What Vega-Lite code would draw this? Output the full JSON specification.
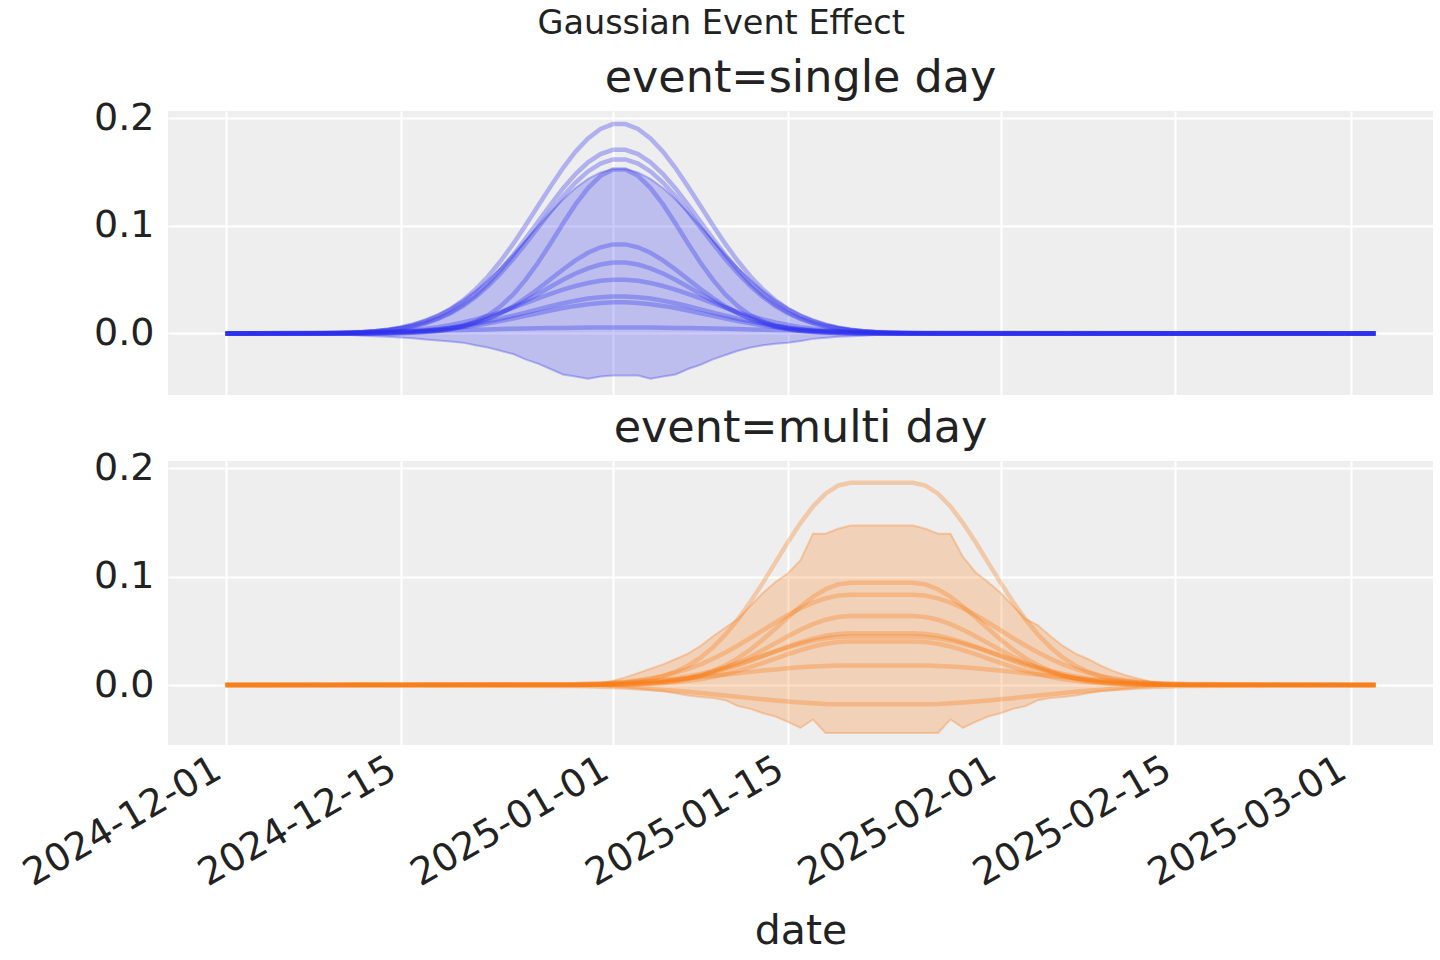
{
"$schema": "https://vega.github.io/schema/vega-lite/v6.json",
"background": "white",
"padding": {"left": 17, "top": 7, "right": 8, "bottom": 8},
"title": {"text": "Gaussian Event Effect", "fontSize": 33.5, "fontWeight": "normal", "font": "DejaVu Sans", "color": "#222222", "anchor": "middle", "baseline": "alphabetic", "offset": -12, "dx": -4},
"spacing": 10,
"config": {
 "font": "DejaVu Sans",
 "view": {"fill": "#eeeeee", "stroke": null},
 "axis": {"domain": false, "ticks": false, "grid": true, "gridColor": "#ffffff", "gridWidth": 2, "gridOpacity": 1, "labelFont": "DejaVu Sans", "labelFontSize": 38, "labelColor": "#222222", "titleFont": "DejaVu Sans", "titleFontSize": 41, "titleFontWeight": "normal", "titleColor": "#222222", "labelLimit": 0},
 "axisY": {"labelPadding": 14},
 "title": {"font": "DejaVu Sans", "fontSize": 44.5, "fontWeight": "normal", "color": "#222222"}
},
"datasets": {
"top": [
{"d":"2024-12-01","a":0,"b":0,"c":0,"e":0,"f":0,"g":0,"h":0,"k":0,"m":0,"n":0,"hi":0,"lo":0},
{"d":"2024-12-07","a":0.0001,"b":0,"c":0,"e":0,"f":0,"g":0,"h":0,"k":0,"m":0,"n":0.0006,"hi":0.0002,"lo":-0.0005},
{"d":"2024-12-08","a":0.0002,"b":0.0001,"c":0.0001,"e":0,"f":0,"g":0,"h":0,"k":0,"m":0,"n":0.0007,"hi":0.0003,"lo":-0.0008},
{"d":"2024-12-09","a":0.0003,"b":0.0002,"c":0.0002,"e":0,"f":0,"g":0,"h":0.0001,"k":0.0001,"m":0,"n":0.0008,"hi":0.0006,"lo":-0.001},
{"d":"2024-12-10","a":0.0005,"b":0.0004,"c":0.0004,"e":0,"f":0,"g":0,"h":0.0002,"k":0.0002,"m":0.0001,"n":0.001,"hi":0.0009,"lo":-0.0012},
{"d":"2024-12-11","a":0.0008,"b":0.0007,"c":0.0007,"e":0,"f":0,"g":0,"h":0.0004,"k":0.0003,"m":0.0002,"n":0.0011,"hi":0.0014,"lo":-0.0015},
{"d":"2024-12-12","a":0.0013,"b":0.0012,"c":0.0011,"e":0,"f":0,"g":0,"h":0.0007,"k":0.0005,"m":0.0004,"n":0.0013,"hi":0.0021,"lo":-0.002},
{"d":"2024-12-13","a":0.0022,"b":0.0019,"c":0.0018,"e":0,"f":0,"g":0.0003,"h":0.001,"k":0.0007,"m":0.0006,"n":0.0015,"hi":0.0032,"lo":-0.0025},
{"d":"2024-12-14","a":0.0034,"b":0.003,"c":0.0028,"e":0,"f":0,"g":0.0006,"h":0.0015,"k":0.001,"m":0.0009,"n":0.0017,"hi":0.0047,"lo":-0.003},
{"d":"2024-12-15","a":0.0052,"b":0.0046,"c":0.0043,"e":0.0003,"f":0.0005,"g":0.0009,"h":0.0022,"k":0.0015,"m":0.0013,"n":0.0019,"hi":0.0067,"lo":-0.0037},
{"d":"2024-12-16","a":0.0078,"b":0.0068,"c":0.0065,"e":0.0007,"f":0.0009,"g":0.0015,"h":0.0031,"k":0.0021,"m":0.0018,"n":0.0022,"hi":0.0095,"lo":-0.0045},
{"d":"2024-12-17","a":0.0114,"b":0.01,"c":0.0094,"e":0.0013,"f":0.0016,"g":0.0023,"h":0.0043,"k":0.003,"m":0.0025,"n":0.0024,"hi":0.0132,"lo":-0.0055},
{"d":"2024-12-18","a":0.0162,"b":0.0142,"c":0.0135,"e":0.0023,"f":0.0026,"g":0.0036,"h":0.0059,"k":0.004,"m":0.0034,"n":0.0027,"hi":0.0179,"lo":-0.0065},
{"d":"2024-12-19","a":0.0226,"b":0.0198,"c":0.0187,"e":0.004,"f":0.0041,"g":0.0053,"h":0.0078,"k":0.0054,"m":0.0045,"n":0.003,"hi":0.0238,"lo":-0.0075},
{"d":"2024-12-20","a":0.0307,"b":0.0269,"c":0.0255,"e":0.0067,"f":0.0063,"g":0.0075,"h":0.0102,"k":0.007,"m":0.0059,"n":0.0033,"hi":0.0311,"lo":-0.0085},
{"d":"2024-12-21","a":0.0408,"b":0.0357,"c":0.0339,"e":0.0109,"f":0.0093,"g":0.0105,"h":0.013,"k":0.0089,"m":0.0075,"n":0.0035,"hi":0.0397,"lo":-0.011},
{"d":"2024-12-22","a":0.0529,"b":0.0464,"c":0.044,"e":0.0169,"f":0.0134,"g":0.0143,"h":0.0162,"k":0.0112,"m":0.0094,"n":0.0038,"hi":0.0497,"lo":-0.013},
{"d":"2024-12-23","a":0.067,"b":0.0588,"c":0.0557,"e":0.0252,"f":0.0187,"g":0.0188,"h":0.0199,"k":0.0137,"m":0.0115,"n":0.0041,"hi":0.0609,"lo":-0.016},
{"d":"2024-12-24","a":0.0829,"b":0.0727,"c":0.0689,"e":0.0361,"f":0.0251,"g":0.0242,"h":0.0239,"k":0.0165,"m":0.0139,"n":0.0044,"hi":0.0732,"lo":-0.019},
{"d":"2024-12-25","a":0.1002,"b":0.0879,"c":0.0833,"e":0.0497,"f":0.0328,"g":0.0302,"h":0.0282,"k":0.0194,"m":0.0163,"n":0.0046,"hi":0.0862,"lo":-0.024},
{"d":"2024-12-26","a":0.1183,"b":0.1037,"c":0.0983,"e":0.0657,"f":0.0413,"g":0.0367,"h":0.0325,"k":0.0224,"m":0.0188,"n":0.0048,"hi":0.0994,"lo":-0.028},
{"d":"2024-12-27","a":0.1363,"b":0.1195,"c":0.1132,"e":0.0835,"f":0.0503,"g":0.0434,"h":0.0367,"k":0.0253,"m":0.0213,"n":0.005,"hi":0.1124,"lo":-0.033},
{"d":"2024-12-28","a":0.1535,"b":0.1346,"c":0.1275,"e":0.1021,"f":0.0594,"g":0.0498,"h":0.0407,"k":0.0281,"m":0.0236,"n":0.0052,"hi":0.1244,"lo":-0.038},
{"d":"2024-12-29","a":0.1687,"b":0.1479,"c":0.1401,"e":0.1198,"f":0.0678,"g":0.0557,"h":0.0441,"k":0.0304,"m":0.0256,"n":0.0054,"hi":0.135,"lo":-0.04},
{"d":"2024-12-30","a":0.1811,"b":0.1588,"c":0.1504,"e":0.135,"f":0.0749,"g":0.0605,"h":0.0469,"k":0.0324,"m":0.0272,"n":0.0055,"hi":0.1435,"lo":-0.042},
{"d":"2024-12-31","a":0.1899,"b":0.1665,"c":0.1577,"e":0.1463,"f":0.08,"g":0.064,"h":0.0489,"k":0.0337,"m":0.0283,"n":0.0056,"hi":0.1495,"lo":-0.04},
{"d":"2025-01-01","a":0.1944,"b":0.1705,"c":0.1615,"e":0.1522,"f":0.0827,"g":0.0658,"h":0.0499,"k":0.0344,"m":0.0289,"n":0.0056,"hi":0.1526,"lo":-0.039},
{"d":"2025-01-02","a":0.1944,"b":0.1705,"c":0.1615,"e":0.1522,"f":0.0827,"g":0.0658,"h":0.0499,"k":0.0344,"m":0.0289,"n":0.0056,"hi":0.1526,"lo":-0.039},
{"d":"2025-01-03","a":0.1899,"b":0.1665,"c":0.1577,"e":0.1463,"f":0.08,"g":0.064,"h":0.0489,"k":0.0337,"m":0.0283,"n":0.0056,"hi":0.1495,"lo":-0.039},
{"d":"2025-01-04","a":0.1811,"b":0.1588,"c":0.1504,"e":0.135,"f":0.0749,"g":0.0605,"h":0.0469,"k":0.0324,"m":0.0272,"n":0.0055,"hi":0.1435,"lo":-0.042},
{"d":"2025-01-05","a":0.1687,"b":0.1479,"c":0.1401,"e":0.1198,"f":0.0678,"g":0.0557,"h":0.0441,"k":0.0304,"m":0.0256,"n":0.0054,"hi":0.135,"lo":-0.04},
{"d":"2025-01-06","a":0.1535,"b":0.1346,"c":0.1275,"e":0.1021,"f":0.0594,"g":0.0498,"h":0.0407,"k":0.0281,"m":0.0236,"n":0.0052,"hi":0.1244,"lo":-0.038},
{"d":"2025-01-07","a":0.1363,"b":0.1195,"c":0.1132,"e":0.0835,"f":0.0503,"g":0.0434,"h":0.0367,"k":0.0253,"m":0.0213,"n":0.005,"hi":0.1124,"lo":-0.033},
{"d":"2025-01-08","a":0.1183,"b":0.1037,"c":0.0983,"e":0.0657,"f":0.0413,"g":0.0367,"h":0.0325,"k":0.0224,"m":0.0188,"n":0.0048,"hi":0.0994,"lo":-0.029},
{"d":"2025-01-09","a":0.1002,"b":0.0879,"c":0.0833,"e":0.0497,"f":0.0328,"g":0.0302,"h":0.0282,"k":0.0194,"m":0.0163,"n":0.0046,"hi":0.0862,"lo":-0.024},
{"d":"2025-01-10","a":0.0829,"b":0.0727,"c":0.0689,"e":0.0361,"f":0.0251,"g":0.0242,"h":0.0239,"k":0.0165,"m":0.0139,"n":0.0044,"hi":0.0732,"lo":-0.02},
{"d":"2025-01-11","a":0.067,"b":0.0588,"c":0.0557,"e":0.0252,"f":0.0187,"g":0.0188,"h":0.0199,"k":0.0137,"m":0.0115,"n":0.0041,"hi":0.0609,"lo":-0.016},
{"d":"2025-01-12","a":0.0529,"b":0.0464,"c":0.044,"e":0.0169,"f":0.0134,"g":0.0143,"h":0.0162,"k":0.0112,"m":0.0094,"n":0.0038,"hi":0.0497,"lo":-0.013},
{"d":"2025-01-13","a":0.0408,"b":0.0357,"c":0.0339,"e":0.0109,"f":0.0093,"g":0.0105,"h":0.013,"k":0.0089,"m":0.0075,"n":0.0035,"hi":0.0397,"lo":-0.011},
{"d":"2025-01-14","a":0.0307,"b":0.0269,"c":0.0255,"e":0.0067,"f":0.0063,"g":0.0075,"h":0.0102,"k":0.007,"m":0.0059,"n":0.0033,"hi":0.0311,"lo":-0.0095},
{"d":"2025-01-15","a":0.0226,"b":0.0198,"c":0.0187,"e":0.004,"f":0.0041,"g":0.0053,"h":0.0078,"k":0.0054,"m":0.0045,"n":0.003,"hi":0.0238,"lo":-0.0085},
{"d":"2025-01-16","a":0.0162,"b":0.0142,"c":0.0135,"e":0.0023,"f":0.0026,"g":0.0036,"h":0.0059,"k":0.004,"m":0.0034,"n":0.0027,"hi":0.0179,"lo":-0.007},
{"d":"2025-01-17","a":0.0114,"b":0.01,"c":0.0094,"e":0.0013,"f":0.0016,"g":0.0023,"h":0.0043,"k":0.003,"m":0.0025,"n":0.0024,"hi":0.0132,"lo":-0.005},
{"d":"2025-01-18","a":0.0078,"b":0.0068,"c":0.0065,"e":0.0007,"f":0.0009,"g":0.0015,"h":0.0031,"k":0.0021,"m":0.0018,"n":0.0022,"hi":0.0095,"lo":-0.004},
{"d":"2025-01-19","a":0.0052,"b":0.0046,"c":0.0043,"e":0.0003,"f":0.0005,"g":0.0009,"h":0.0022,"k":0.0015,"m":0.0013,"n":0.0019,"hi":0.0067,"lo":-0.003},
{"d":"2025-01-20","a":0.0034,"b":0.003,"c":0.0028,"e":0,"f":0,"g":0.0006,"h":0.0015,"k":0.001,"m":0.0009,"n":0.0017,"hi":0.0047,"lo":-0.0025},
{"d":"2025-01-21","a":0.0022,"b":0.0019,"c":0.0018,"e":0,"f":0,"g":0.0003,"h":0.001,"k":0.0007,"m":0.0006,"n":0.0015,"hi":0.0032,"lo":-0.002},
{"d":"2025-01-22","a":0.0013,"b":0.0012,"c":0.0011,"e":0,"f":0,"g":0,"h":0.0007,"k":0.0005,"m":0.0004,"n":0.0013,"hi":0.0021,"lo":-0.0015},
{"d":"2025-01-23","a":0.0008,"b":0.0007,"c":0.0007,"e":0,"f":0,"g":0,"h":0.0004,"k":0.0003,"m":0.0002,"n":0.0011,"hi":0.0014,"lo":-0.0012},
{"d":"2025-01-24","a":0.0005,"b":0.0004,"c":0.0004,"e":0,"f":0,"g":0,"h":0.0002,"k":0.0002,"m":0.0001,"n":0.001,"hi":0.0009,"lo":-0.001},
{"d":"2025-01-25","a":0.0003,"b":0.0002,"c":0.0002,"e":0,"f":0,"g":0,"h":0.0001,"k":0.0001,"m":0,"n":0.0008,"hi":0.0006,"lo":-0.0008},
{"d":"2025-01-26","a":0.0002,"b":0.0001,"c":0.0001,"e":0,"f":0,"g":0,"h":0,"k":0,"m":0,"n":0.0007,"hi":0.0003,"lo":-0.0005},
{"d":"2025-01-27","a":0.0001,"b":0,"c":0,"e":0,"f":0,"g":0,"h":0,"k":0,"m":0,"n":0.0006,"hi":0.0002,"lo":-0.0003},
{"d":"2025-03-03","a":0,"b":0,"c":0,"e":0,"f":0,"g":0,"h":0,"k":0,"m":0,"n":0,"hi":0,"lo":0}
],
"bot": [
{"d":"2024-12-01","a":0,"b":0,"c":0,"e":0,"f":0,"g":0,"h":0,"k":0,"m":0,"hi":0,"lo":0},
{"d":"2024-12-29","a":0.0002,"b":0,"c":0.0006,"e":0,"f":0.0001,"g":0.0003,"h":0,"k":0.0009,"m":-0.0009,"hi":0.0003,"lo":-0.0003},
{"d":"2024-12-30","a":0.0004,"b":0,"c":0.0009,"e":0.0001,"f":0.0002,"g":0.0005,"h":0,"k":0.0012,"m":-0.0012,"hi":0.0005,"lo":-0.0006},
{"d":"2024-12-31","a":0.0007,"b":0.0001,"c":0.0014,"e":0.0002,"f":0.0004,"g":0.0008,"h":0.0001,"k":0.0015,"m":-0.0015,"hi":0.001,"lo":-0.001},
{"d":"2025-01-01","a":0.0012,"b":0.0002,"c":0.0021,"e":0.0004,"f":0.0007,"g":0.0011,"h":0.0002,"k":0.0019,"m":-0.0019,"hi":0.004,"lo":-0.002},
{"d":"2025-01-02","a":0.0021,"b":0.0004,"c":0.0031,"e":0.0007,"f":0.001,"g":0.0016,"h":0.0004,"k":0.0024,"m":-0.0024,"hi":0.007,"lo":-0.0025},
{"d":"2025-01-03","a":0.0034,"b":0.0008,"c":0.0044,"e":0.0012,"f":0.0016,"g":0.0023,"h":0.0007,"k":0.003,"m":-0.003,"hi":0.011,"lo":-0.0035},
{"d":"2025-01-04","a":0.0053,"b":0.0014,"c":0.0061,"e":0.0018,"f":0.0023,"g":0.0033,"h":0.0011,"k":0.0037,"m":-0.0037,"hi":0.015,"lo":-0.0045},
{"d":"2025-01-05","a":0.0082,"b":0.0023,"c":0.0084,"e":0.0028,"f":0.0033,"g":0.0045,"h":0.0018,"k":0.0045,"m":-0.0045,"hi":0.019,"lo":-0.0056},
{"d":"2025-01-06","a":0.0123,"b":0.0037,"c":0.0113,"e":0.0042,"f":0.0047,"g":0.0061,"h":0.0026,"k":0.0054,"m":-0.0053,"hi":0.024,"lo":-0.0075},
{"d":"2025-01-07","a":0.0178,"b":0.0058,"c":0.0148,"e":0.0061,"f":0.0064,"g":0.008,"h":0.0038,"k":0.0063,"m":-0.0063,"hi":0.029,"lo":-0.0096},
{"d":"2025-01-08","a":0.0252,"b":0.0087,"c":0.0191,"e":0.0086,"f":0.0087,"g":0.0103,"h":0.0054,"k":0.0074,"m":-0.0074,"hi":0.036,"lo":-0.011},
{"d":"2025-01-09","a":0.0347,"b":0.0128,"c":0.0242,"e":0.0118,"f":0.0114,"g":0.013,"h":0.0075,"k":0.0085,"m":-0.0085,"hi":0.045,"lo":-0.012},
{"d":"2025-01-10","a":0.0465,"b":0.0181,"c":0.03,"e":0.0159,"f":0.0146,"g":0.0162,"h":0.01,"k":0.0097,"m":-0.0097,"hi":0.053,"lo":-0.014},
{"d":"2025-01-11","a":0.0606,"b":0.0247,"c":0.0364,"e":0.0207,"f":0.0182,"g":0.0196,"h":0.0131,"k":0.0109,"m":-0.0109,"hi":0.061,"lo":-0.0195},
{"d":"2025-01-12","a":0.0767,"b":0.0327,"c":0.0433,"e":0.0261,"f":0.0223,"g":0.0233,"h":0.0165,"k":0.0121,"m":-0.0121,"hi":0.073,"lo":-0.022},
{"d":"2025-01-13","a":0.0944,"b":0.042,"c":0.0505,"e":0.0322,"f":0.0267,"g":0.0272,"h":0.0204,"k":0.0133,"m":-0.0132,"hi":0.085,"lo":-0.026},
{"d":"2025-01-14","a":0.1131,"b":0.052,"c":0.0576,"e":0.0386,"f":0.0311,"g":0.031,"h":0.0244,"k":0.0144,"m":-0.0143,"hi":0.095,"lo":-0.029},
{"d":"2025-01-15","a":0.1318,"b":0.0624,"c":0.0645,"e":0.0449,"f":0.0354,"g":0.0347,"h":0.0284,"k":0.0154,"m":-0.0153,"hi":0.103,"lo":-0.034},
{"d":"2025-01-16","a":0.1493,"b":0.0724,"c":0.0707,"e":0.0509,"f":0.0394,"g":0.038,"h":0.0322,"k":0.0163,"m":-0.0162,"hi":0.115,"lo":-0.0396},
{"d":"2025-01-17","a":0.1646,"b":0.0813,"c":0.0759,"e":0.0561,"f":0.0428,"g":0.0409,"h":0.0355,"k":0.017,"m":-0.0169,"hi":0.1395,"lo":-0.0318},
{"d":"2025-01-18","a":0.1764,"b":0.0883,"c":0.0799,"e":0.0602,"f":0.0454,"g":0.043,"h":0.038,"k":0.0176,"m":-0.0175,"hi":0.1395,"lo":-0.0442},
{"d":"2025-01-19","a":0.1839,"b":0.0928,"c":0.0824,"e":0.0627,"f":0.047,"g":0.0443,"h":0.0396,"k":0.0179,"m":-0.0178,"hi":0.144,"lo":-0.0442},
{"d":"2025-01-20","a":0.1865,"b":0.0943,"c":0.0832,"e":0.0636,"f":0.0476,"g":0.0448,"h":0.0402,"k":0.018,"m":-0.0178,"hi":0.147,"lo":-0.0442},
{"d":"2025-01-21","a":0.1865,"b":0.0943,"c":0.0832,"e":0.0636,"f":0.0476,"g":0.0448,"h":0.0402,"k":0.018,"m":-0.0178,"hi":0.147,"lo":-0.0442},
{"d":"2025-01-22","a":0.1865,"b":0.0943,"c":0.0832,"e":0.0636,"f":0.0476,"g":0.0448,"h":0.0402,"k":0.018,"m":-0.0178,"hi":0.147,"lo":-0.0442},
{"d":"2025-01-23","a":0.1865,"b":0.0943,"c":0.0832,"e":0.0636,"f":0.0476,"g":0.0448,"h":0.0402,"k":0.018,"m":-0.0178,"hi":0.147,"lo":-0.0442},
{"d":"2025-01-24","a":0.1865,"b":0.0943,"c":0.0832,"e":0.0636,"f":0.0476,"g":0.0448,"h":0.0402,"k":0.018,"m":-0.0178,"hi":0.147,"lo":-0.0442},
{"d":"2025-01-25","a":0.1865,"b":0.0943,"c":0.0832,"e":0.0636,"f":0.0476,"g":0.0448,"h":0.0402,"k":0.018,"m":-0.0178,"hi":0.147,"lo":-0.0442},
{"d":"2025-01-26","a":0.1839,"b":0.0928,"c":0.0824,"e":0.0627,"f":0.047,"g":0.0443,"h":0.0396,"k":0.0179,"m":-0.0178,"hi":0.144,"lo":-0.0442},
{"d":"2025-01-27","a":0.1764,"b":0.0883,"c":0.0799,"e":0.0602,"f":0.0454,"g":0.043,"h":0.038,"k":0.0176,"m":-0.0175,"hi":0.1395,"lo":-0.0442},
{"d":"2025-01-28","a":0.1646,"b":0.0813,"c":0.0759,"e":0.0561,"f":0.0428,"g":0.0409,"h":0.0355,"k":0.017,"m":-0.0169,"hi":0.1395,"lo":-0.0318},
{"d":"2025-01-29","a":0.1493,"b":0.0724,"c":0.0707,"e":0.0509,"f":0.0394,"g":0.038,"h":0.0322,"k":0.0163,"m":-0.0162,"hi":0.118,"lo":-0.0396},
{"d":"2025-01-30","a":0.1318,"b":0.0624,"c":0.0645,"e":0.0449,"f":0.0354,"g":0.0347,"h":0.0284,"k":0.0154,"m":-0.0153,"hi":0.104,"lo":-0.034},
{"d":"2025-01-31","a":0.1131,"b":0.052,"c":0.0576,"e":0.0386,"f":0.0311,"g":0.031,"h":0.0244,"k":0.0144,"m":-0.0143,"hi":0.095,"lo":-0.029},
{"d":"2025-02-01","a":0.0944,"b":0.042,"c":0.0505,"e":0.0322,"f":0.0267,"g":0.0272,"h":0.0204,"k":0.0133,"m":-0.0132,"hi":0.085,"lo":-0.026},
{"d":"2025-02-02","a":0.0767,"b":0.0327,"c":0.0433,"e":0.0261,"f":0.0223,"g":0.0233,"h":0.0165,"k":0.0121,"m":-0.0121,"hi":0.073,"lo":-0.022},
{"d":"2025-02-03","a":0.0606,"b":0.0247,"c":0.0364,"e":0.0207,"f":0.0182,"g":0.0196,"h":0.0131,"k":0.0109,"m":-0.0109,"hi":0.061,"lo":-0.0195},
{"d":"2025-02-04","a":0.0465,"b":0.0181,"c":0.03,"e":0.0159,"f":0.0146,"g":0.0162,"h":0.01,"k":0.0097,"m":-0.0097,"hi":0.055,"lo":-0.014},
{"d":"2025-02-05","a":0.0347,"b":0.0128,"c":0.0242,"e":0.0118,"f":0.0114,"g":0.013,"h":0.0075,"k":0.0085,"m":-0.0085,"hi":0.045,"lo":-0.012},
{"d":"2025-02-06","a":0.0252,"b":0.0087,"c":0.0191,"e":0.0086,"f":0.0087,"g":0.0103,"h":0.0054,"k":0.0074,"m":-0.0074,"hi":0.036,"lo":-0.011},
{"d":"2025-02-07","a":0.0178,"b":0.0058,"c":0.0148,"e":0.0061,"f":0.0064,"g":0.008,"h":0.0038,"k":0.0063,"m":-0.0063,"hi":0.029,"lo":-0.0096},
{"d":"2025-02-08","a":0.0123,"b":0.0037,"c":0.0113,"e":0.0042,"f":0.0047,"g":0.0061,"h":0.0026,"k":0.0054,"m":-0.0053,"hi":0.024,"lo":-0.0075},
{"d":"2025-02-09","a":0.0082,"b":0.0023,"c":0.0084,"e":0.0028,"f":0.0033,"g":0.0045,"h":0.0018,"k":0.0045,"m":-0.0045,"hi":0.018,"lo":-0.0056},
{"d":"2025-02-10","a":0.0053,"b":0.0014,"c":0.0061,"e":0.0018,"f":0.0023,"g":0.0033,"h":0.0011,"k":0.0037,"m":-0.0037,"hi":0.013,"lo":-0.0045},
{"d":"2025-02-11","a":0.0034,"b":0.0008,"c":0.0044,"e":0.0012,"f":0.0016,"g":0.0023,"h":0.0007,"k":0.003,"m":-0.003,"hi":0.009,"lo":-0.0035},
{"d":"2025-02-12","a":0.0021,"b":0.0004,"c":0.0031,"e":0.0007,"f":0.001,"g":0.0016,"h":0.0004,"k":0.0024,"m":-0.0024,"hi":0.006,"lo":-0.0025},
{"d":"2025-02-13","a":0.0012,"b":0.0002,"c":0.0021,"e":0.0004,"f":0.0007,"g":0.0011,"h":0.0002,"k":0.0019,"m":-0.0019,"hi":0.003,"lo":-0.002},
{"d":"2025-02-14","a":0.0007,"b":0.0001,"c":0.0014,"e":0.0002,"f":0.0004,"g":0.0008,"h":0.0001,"k":0.0015,"m":-0.0015,"hi":0.0015,"lo":-0.001},
{"d":"2025-02-15","a":0.0004,"b":0,"c":0.0009,"e":0.0001,"f":0.0002,"g":0.0005,"h":0,"k":0.0012,"m":-0.0012,"hi":0.0005,"lo":-0.0006},
{"d":"2025-02-16","a":0.0002,"b":0,"c":0.0006,"e":0,"f":0.0001,"g":0.0003,"h":0,"k":0.0009,"m":-0.0009,"hi":0.0003,"lo":-0.0003},
{"d":"2025-03-03","a":0,"b":0,"c":0,"e":0,"f":0,"g":0,"h":0,"k":0,"m":0,"hi":0,"lo":0}
]
},
"vconcat": [
{
 "data": {"name": "top"},
 "width": 1265, "height": 284,
 "title": {"text": "event=single day", "frame": "group", "anchor": "middle", "baseline": "alphabetic", "offset": -37},
 "encoding": {"x": {"field": "d", "type": "temporal",
   "scale": {"type": "utc", "domain": [{"year": 2024, "month": 11, "date": 26, "hours": 9, "minutes": 36, "utc": true}, {"year": 2025, "month": 3, "date": 7, "hours": 14, "minutes": 24, "utc": true}]},
   "axis": {"values": [{"year":2024,"month":12,"date":1,"utc":true},{"year":2024,"month":12,"date":15,"utc":true},{"year":2025,"month":1,"date":1,"utc":true},{"year":2025,"month":1,"date":15,"utc":true},{"year":2025,"month":2,"date":1,"utc":true},{"year":2025,"month":2,"date":15,"utc":true},{"year":2025,"month":3,"date":1,"utc":true}], "labels": false, "title": null}}},
 "layer": [
  {"mark": {"type": "area", "color": "#2a2eec", "fillOpacity": 0.25, "stroke": "#2a2eec", "strokeOpacity": 0.3, "strokeWidth": 2},
   "encoding": {"y": {"field": "lo", "type": "quantitative", "scale": {"domain": [-0.0571, 0.2065], "nice": false, "zero": false}, "axis": {"values": [0, 0.1, 0.2], "format": ".1f", "title": null}}, "y2": {"field": "hi"}}},
  {"transform": [{"fold": ["a","b","c","e","f","g","h","k","m","n"], "as": ["s","v"]}],
   "mark": {"type": "line", "color": "#2a2eec", "strokeWidth": 4.5, "strokeOpacity": 0.32},
   "encoding": {"y": {"field": "v", "type": "quantitative", "scale": {"domain": [-0.0571, 0.2065], "nice": false, "zero": false}, "axis": {"values": [0, 0.1, 0.2], "format": ".1f", "title": null}}, "detail": {"field": "s", "type": "nominal"}}}
 ]
},
{
 "data": {"name": "bot"},
 "width": 1265, "height": 284,
 "title": {"text": "event=multi day", "frame": "group", "anchor": "middle", "baseline": "alphabetic", "offset": -37},
 "encoding": {"x": {"field": "d", "type": "temporal",
   "scale": {"type": "utc", "domain": [{"year": 2024, "month": 11, "date": 26, "hours": 9, "minutes": 36, "utc": true}, {"year": 2025, "month": 3, "date": 7, "hours": 14, "minutes": 24, "utc": true}]},
   "axis": {"values": [{"year":2024,"month":12,"date":1,"utc":true},{"year":2024,"month":12,"date":15,"utc":true},{"year":2025,"month":1,"date":1,"utc":true},{"year":2025,"month":1,"date":15,"utc":true},{"year":2025,"month":2,"date":1,"utc":true},{"year":2025,"month":2,"date":15,"utc":true},{"year":2025,"month":3,"date":1,"utc":true}], "format": "%Y-%m-%d", "labelAngle": -30, "labelAlign": "right", "labelBaseline": "top", "labelOffset": -17, "labelPadding": 5, "labelOverlap": false, "labelFlush": false, "labelBound": false, "title": "date", "titlePadding": 18}}},
 "layer": [
  {"mark": {"type": "area", "color": "#fa7c17", "fillOpacity": 0.25, "stroke": "#fa7c17", "strokeOpacity": 0.3, "strokeWidth": 2},
   "encoding": {"y": {"field": "lo", "type": "quantitative", "scale": {"domain": [-0.0553, 0.2065], "nice": false, "zero": false}, "axis": {"values": [0, 0.1, 0.2], "format": ".1f", "title": null}}, "y2": {"field": "hi"}}},
  {"transform": [{"fold": ["a","b","c","e","f","g","h","k","m"], "as": ["s","v"]}],
   "mark": {"type": "line", "color": "#fa7c17", "strokeWidth": 4.5, "strokeOpacity": 0.32},
   "encoding": {"y": {"field": "v", "type": "quantitative", "scale": {"domain": [-0.0553, 0.2065], "nice": false, "zero": false}, "axis": {"values": [0, 0.1, 0.2], "format": ".1f", "title": null}}, "detail": {"field": "s", "type": "nominal"}}}
 ]
}
]
}
